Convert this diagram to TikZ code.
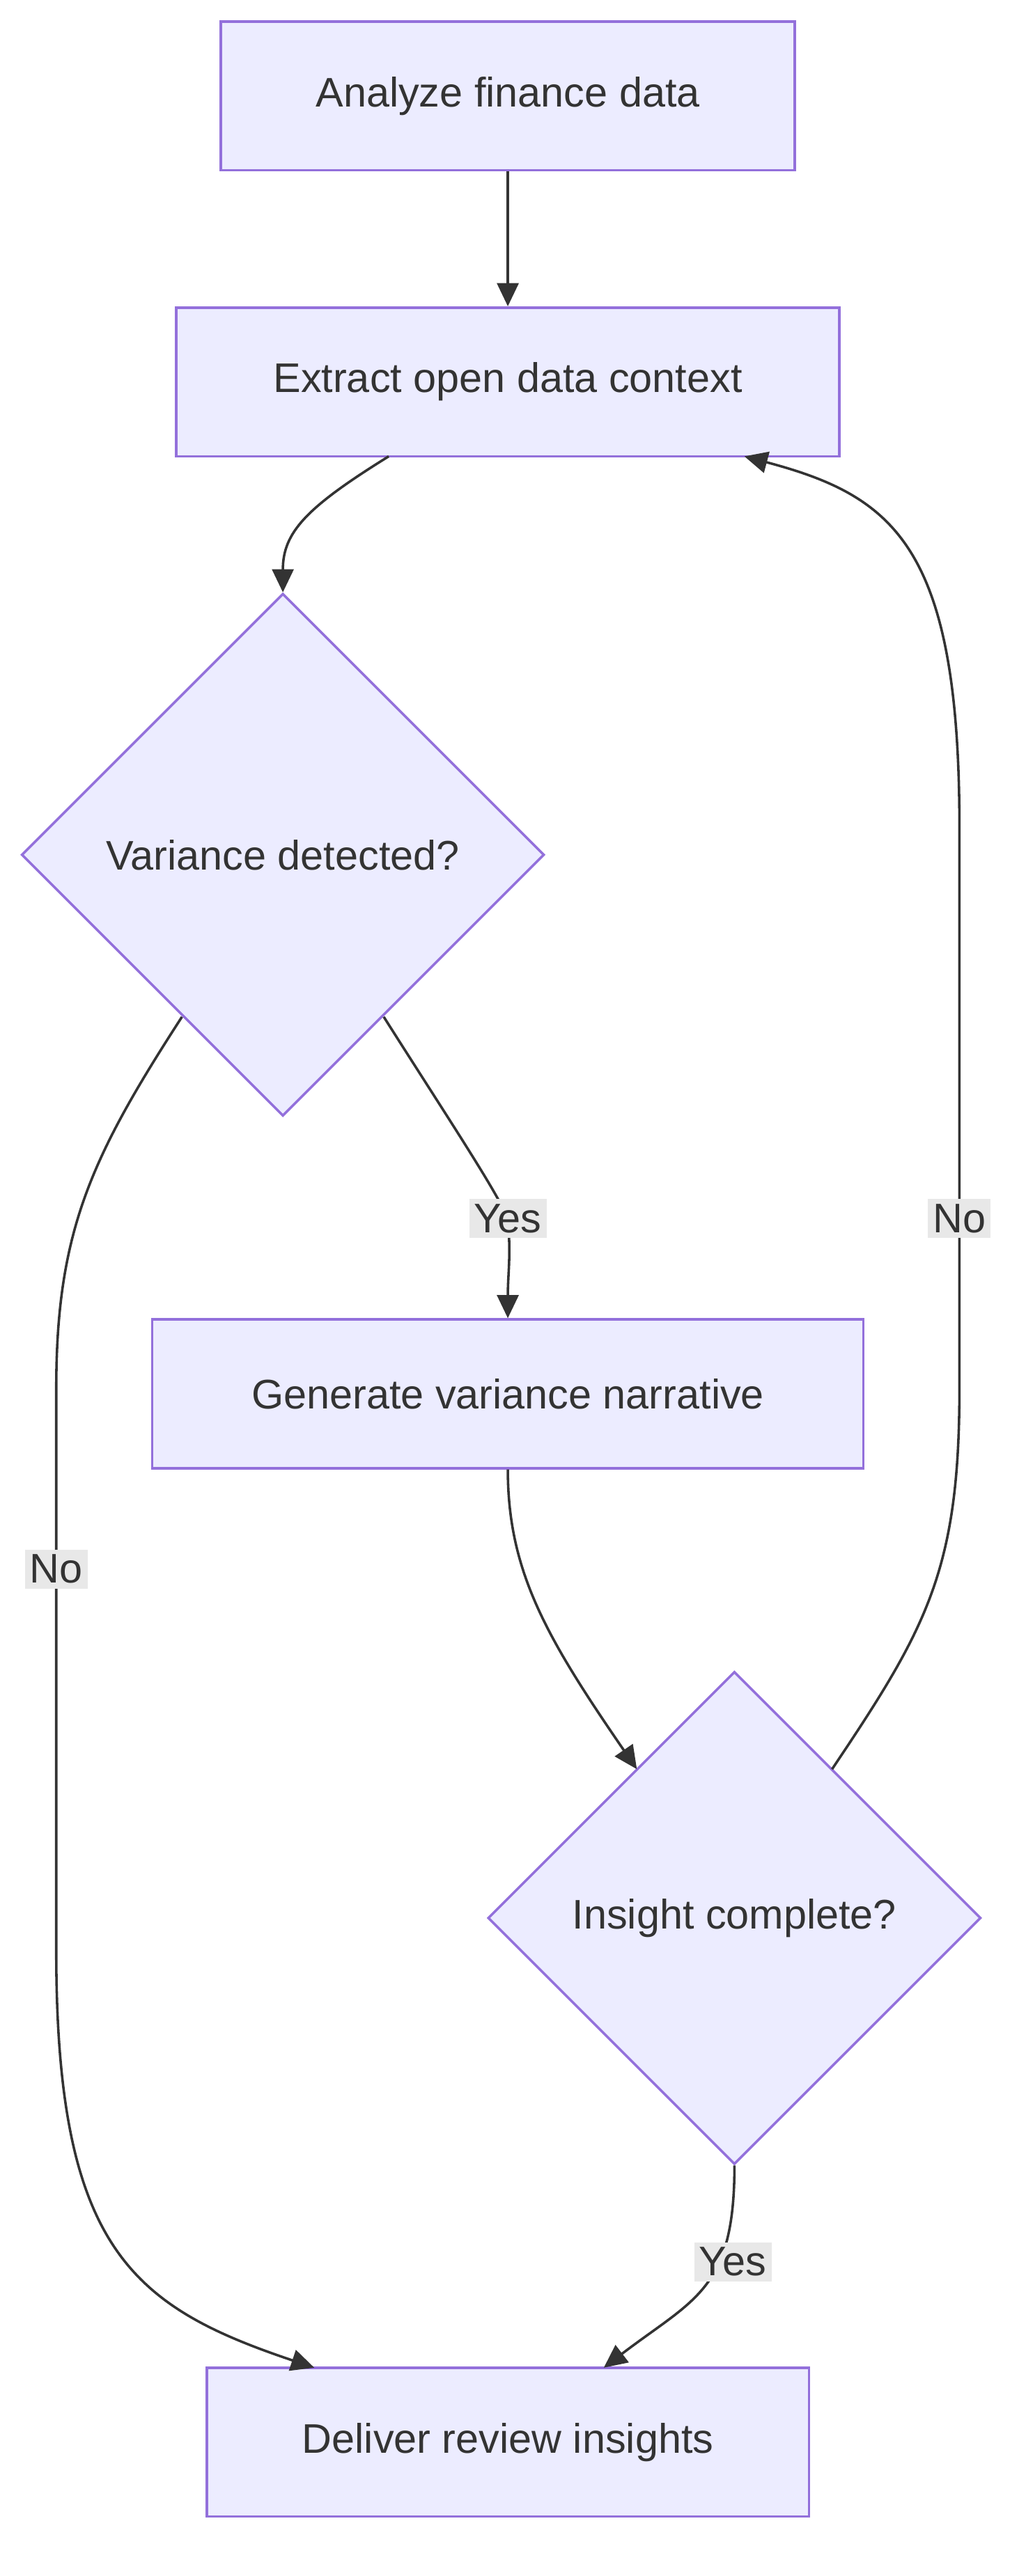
\documentclass[tikz,border=0pt]{standalone}
\usepackage{fontspec}
\setmainfont{Liberation Sans}
\usetikzlibrary{shapes.geometric,arrows.meta}
\definecolor{nfill}{HTML}{ECECFF}
\definecolor{nline}{HTML}{9370DB}
\definecolor{eline}{HTML}{333333}
\definecolor{lbg}{HTML}{E8E8E8}
\begin{document}
\begin{tikzpicture}[x=1pt,y=-1pt,
  font=\fontsize{25}{30}\selectfont, text=eline,
  box/.style={draw=nline,fill=nfill,line width=1.5pt,inner sep=0pt},
  dia/.style={diamond,draw=nline,fill=nfill,line width=1.5pt,inner sep=0pt},
  edge/.style={draw=eline,line width=1.5pt,-{Triangle[length=14pt,width=13pt]}},
  lab/.style={fill=lbg,inner sep=3pt,text=eline}]
\useasboundingbox (0,0) rectangle (620,1558);
\node[box,minimum width=347,minimum height=90] (b1) at (307,58) {Analyze finance data};
\node[box,minimum width=401,minimum height=90] (b2) at (307,231) {Extract open data context};
\node[dia,minimum width=316,minimum height=316] (d1) at (171,517) {Variance detected?};
\node[box,minimum width=430,minimum height=90] (b3) at (307,843) {Generate variance narrative};
\node[dia,minimum width=298,minimum height=298] (d2) at (444,1160) {Insight complete?};
\node[box,minimum width=364,minimum height=90] (b4) at (307,1477) {Deliver review insights};
\coordinate (y1) at (307,737);
\coordinate (n1) at (580,737);
\coordinate (n2) at (34,949);
\coordinate (y2) at (443,1368);
\draw[edge] (b1) -- (b2);
\draw[edge] (235,276) .. controls (185,307) and (171,322) .. (d1.north);
\draw[edge] (232,615) .. controls (270,675) and (300,720) .. (y1) .. controls (309,760) and (307,770) .. (b3.north);
\draw[edge] (110,615) .. controls (55,700) and (34,745) .. (34,840) -- (n2) -- (34,1180) .. controls (34,1360) and (80,1395) .. (190,1432);
\draw[edge] (b3.south) .. controls (307,950) and (330,990) .. (385,1070);
\draw[edge] (503,1070) .. controls (560,985) and (580,950) .. (580,840) -- (n1) -- (580,500) .. controls (580,330) and (540,300) .. (450,276);
\draw[edge] (d2.south) .. controls (444,1385) and (420,1390) .. (365,1432);
\node[lab] at (y1) {Yes};
\node[lab] at (n1) {No};
\node[lab] at (n2) {No};
\node[lab] at (y2) {Yes};
\end{tikzpicture}
\end{document}
